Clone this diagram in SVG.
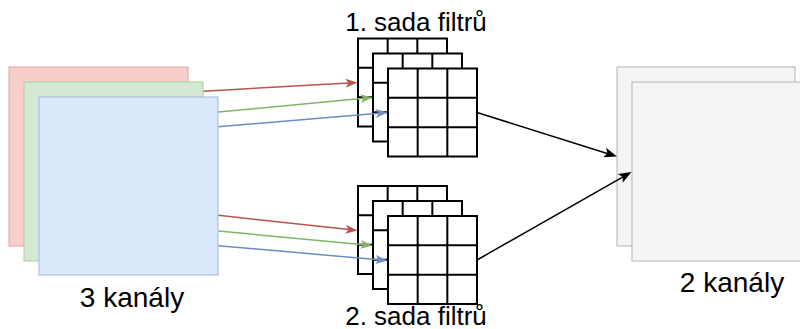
<svg xmlns="http://www.w3.org/2000/svg" width="800" height="329" viewBox="0 0 800 329">
  <style>
    .lbl { font-family: "Liberation Sans", Arial, sans-serif; font-size: 26px; fill: #000; text-anchor: middle; }
    .big { font-size: 28px; }
    .edge { fill: none; stroke-width: 1.5; }
    .out { fill: #f5f5f5; stroke: #b3b3b3; stroke-width: 1; }
  </style>
  <defs>
    <g id="tbl">
      <rect x="0" y="0" width="89" height="88" fill="#fff" stroke="#000" stroke-width="2"/>
      <path d="M29.67,0 V88 M59.33,0 V88 M0,29.33 H89 M0,58.67 H89" fill="none" stroke="#000" stroke-width="2"/>
    </g>
  </defs>

  <g id="input-channels">
    <rect x="9" y="67" width="179" height="179" fill="#f8cecc" stroke="#e6a3a1"/>
    <rect x="24" y="82" width="179" height="179" fill="#d5e8d4" stroke="#a9cf97"/>
    <rect x="39" y="97" width="179" height="178" fill="#dae8fc" stroke="#9fb8dc"/>
    <text class="lbl big" x="132" y="306.5">3 kanály</text>
  </g>

  <g id="filter-set-1">
    <use href="#tbl" x="358" y="38.5"/>
    <use href="#tbl" x="373" y="53.5"/>
    <use href="#tbl" x="388" y="68.5"/>
    <text class="lbl" x="416" y="31">1. sada filtrů</text>
  </g>

  <g id="filter-set-2">
    <use href="#tbl" x="358" y="186"/>
    <use href="#tbl" x="373" y="201"/>
    <use href="#tbl" x="388" y="216"/>
    <text class="lbl" x="416" y="324.5">2. sada filtrů</text>
  </g>

  <g id="output-channels">
    <rect class="out" x="617" y="67" width="178" height="179"/>
    <rect class="out" x="632" y="82" width="179" height="179"/>
    <text class="lbl big" x="732" y="291.5">2 kanály</text>
  </g>

  <g id="connectors">
    <path class="edge" stroke="#b85450" d="M203.5,91.2 L349,83"/>
    <path fill="#b85450" d="M357.5,82.5 L345.27,78.68 L348.51,83 L345.77,87.66 Z"/>
    <path class="edge" stroke="#82b366" d="M218.5,112.1 L364,98.3"/>
    <path fill="#82b366" d="M372.5,97.5 L360.13,94.15 L363.54,98.35 L360.97,103.11 Z"/>
    <path class="edge" stroke="#6c8ebf" d="M218.5,126.7 L379,113.2"/>
    <path fill="#6c8ebf" d="M387.5,112.5 L375.16,109.02 L378.53,113.25 L375.92,117.98 Z"/>

    <path class="edge" stroke="#b85450" d="M218.5,215.3 L349,229.6"/>
    <path fill="#b85450" d="M357.5,230.5 L346.06,224.73 L348.55,229.52 L345.08,233.67 Z"/>
    <path class="edge" stroke="#82b366" d="M218.5,231.1 L364,244.7"/>
    <path fill="#82b366" d="M372.5,245.5 L360.97,239.91 L363.54,244.66 L360.13,248.87 Z"/>
    <path class="edge" stroke="#6c8ebf" d="M218.5,245.7 L379,259.8"/>
    <path fill="#6c8ebf" d="M387.5,260.5 L375.94,254.98 L378.53,259.72 L375.16,263.94 Z"/>

    <path class="edge" stroke="#000" d="M477,112.5 L608,153.7"/>
    <path fill="#000" d="M617,156.5 L606.1,147.83 L607.46,153.5 L603.1,157.37 Z"/>
    <path class="edge" stroke="#000" d="M477,260 L623,176.8"/>
    <path fill="#000" d="M631.5,172 L617.73,174.09 L622.81,176.95 L622.68,182.78 Z"/>
  </g>
</svg>
